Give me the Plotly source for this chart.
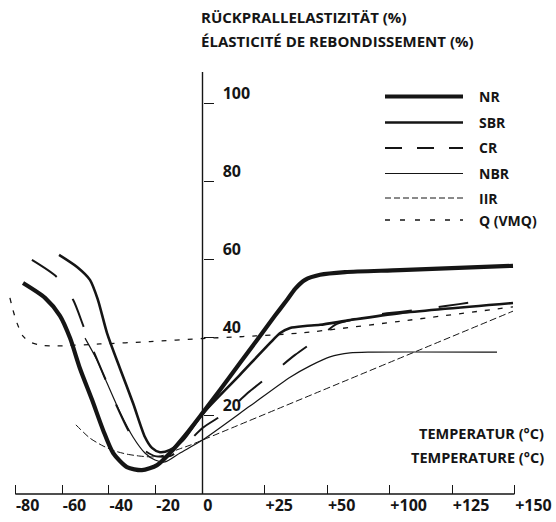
import numpy as np
import plotly.graph_objects as go

# ---------------- data ----------------
tick_temps = [-80, -60, -40, -20, 0, 25, 50, 100, 125, 150]
tick_labels = ["-80", "-60", "-40", "-20", "0", "+25", "+50", "+100", "+125", "+150"]
# the printed scale is broken: equal steps of 20 °C left of 0, equal steps of one label right of 0
tick_pos = [-4, -3, -2, -1, 0, 4 / 3, 8 / 3, 4, 16 / 3, 20 / 3]
y_ticks = [20, 40, 60, 80, 100]

nr_t = [-76.7, -67.3, -60.9, -56.6, -52.4, -47.2, -42.5, -38.2, -32.3, -25.9, -19.4, -13.9, -6.6, 0,
        7.0, 15.0, 29.0, 33.9, 37.1, 41.1, 47.1, 64.2, 104.1, 149.4]
nr_v = [54.0, 50.2, 45.6, 39.9, 32.2, 24.1, 16.4, 10.5, 6.9, 6.1, 7.4, 10.5, 15.6, 20.7,
        26.6, 33.5, 45.6, 49.7, 52.5, 54.8, 56.1, 56.8, 57.3, 58.4]

sbr_t = [-61.3, -53.6, -48.1, -44.7, -40.8, -35.3, -29.7, -24.6, -21.6, -18.2, -13.9, -8.3, 0,
         15.0, 27.0, 31.1, 35.1, 41.1, 47.1, 68.2, 104.1, 149.4]
sbr_v = [61.2, 58.1, 54.8, 49.7, 41.2, 32.2, 23.3, 14.6, 11.8, 10.7, 11.3, 13.8, 20.5,
         30.5, 38.6, 41.2, 42.5, 43.0, 43.3, 44.5, 46.3, 48.9]

cr_t = [-72.9, -62.2, -55.3, -50.6, -45.9, -40.8, -36.5, -31.8, -26.7, -20.3, -13.9, -7.5, 0,
        9.8, 18.2, 28.2, 37.1, 47.1, 56.2, 68.2, 86.6, 104.1, 117.0, 127.8, 140.2]
cr_v = [59.9, 55.5, 49.7, 42.5, 35.6, 28.4, 22.3, 16.4, 12.0, 9.7, 9.7, 12.5, 16.9,
        21.0, 25.9, 31.0, 35.6, 40.2, 43.3, 44.5, 45.8, 46.6, 47.6, 48.6, 49.7]

nbr_t = [-50.2, -45.1, -40.8, -35.3, -29.7, -24.6, -20.3, -16.0, -9.6, 0,
         19.0, 35.1, 43.1, 52.1, 68.2, 84.2, 143.0]
nbr_v = [39.9, 34.3, 28.4, 21.0, 14.6, 10.5, 8.7, 8.2, 10.5, 13.8,
         22.5, 29.9, 32.8, 35.1, 36.1, 36.3, 36.3]

iir_t = [-54.1, -48.1, -42.5, -37.4, -32.3, -26.7, -21.2, -16.0, -10.9, -5.3, 0, 149.4]
iir_v = [17.7, 14.3, 12.3, 11.0, 10.2, 9.7, 9.5, 10.0, 11.3, 12.5, 13.8, 46.8]

q_t = [-82.3, -81.0, -79.3, -76.7, -73.7, -69.4, -62.2, -43.8, -22.4, 0, 16.2, 39.1, 104.1, 149.4]
q_v = [50.2, 47.1, 43.8, 40.4, 38.9, 38.1, 37.9, 38.4, 39.0, 39.8, 40.3, 41.2, 44.2, 47.9]

names = ["NR", "SBR", "CR", "NBR", "IIR", "Q (VMQ)"]


def to_pos(t):
    t = np.asarray(t, dtype=float)
    return np.where(t <= 0, t / 20.0, np.interp(t, tick_temps, tick_pos))


W, H = 556, 522
INK = "#151515"
FONT = "Open Sans"

styles = [
    dict(width=4.2, dash="solid"),
    dict(width=2.6, dash="solid"),
    dict(width=2.0, dash="30px,27px"),
    dict(width=1.2, dash="solid"),
    dict(width=1.0, dash="7px,3px"),
    dict(width=1.3, dash="5px,8px"),
]
legend_dash = ["solid", "solid", "17px,15px", "solid", "6px,3px", "5px,10px"]

series = [(nr_t, nr_v), (sbr_t, sbr_v), (cr_t, cr_v), (nbr_t, nbr_v), (iir_t, iir_v), (q_t, q_v)]

fig = go.Figure()
for (t, v), name, st in zip(series, names, styles):
    fig.add_trace(go.Scatter(
        x=to_pos(t), y=v, mode="lines", name=name, showlegend=False,
        line=dict(color=INK, width=st["width"], dash=st["dash"], shape="spline", smoothing=0.7),
        hoverinfo="skip",
    ))

# pixel geometry of the plotting frame
X0_PX, PX_PER_UNIT = 202.5, 46.8
Y0_PX, PX_PER_Y = 494.0, 3.907
x_range = [-X0_PX / PX_PER_UNIT, (W - X0_PX) / PX_PER_UNIT]
y_range = [-(H - Y0_PX) / PX_PER_Y, Y0_PX / PX_PER_Y]
y_top = (Y0_PX - 72) / PX_PER_Y

shapes = [
    dict(type="line", xref="x", yref="y", x0=to_pos(tick_temps[0]).item(), x1=to_pos(tick_temps[-1]).item(),
         y0=0, y1=0, line=dict(color=INK, width=1.4)),
    dict(type="line", xref="x", yref="y", x0=0, x1=0, y0=0, y1=y_top, line=dict(color=INK, width=1.4)),
]
annotations = []

# legend (drawn manually)
leg_y_px = [96.5, 122.5, 148, 173.5, 198, 220]
for name, st, ld, ypx in zip(names, styles, legend_dash, leg_y_px):
    yp = 1 - ypx / H
    shapes.append(dict(type="line", xref="paper", yref="paper", x0=385 / W, x1=463 / W, y0=yp, y1=yp,
                       line=dict(color=INK, width=st["width"], dash=ld)))
    annotations.append(dict(xref="paper", yref="paper", x=477 / W, y=yp, text=name, showarrow=False,
                            xanchor="left", yanchor="middle",
                            font=dict(family=FONT, size=14, color=INK, weight="bold")))

for txt, ypx in [("RÜCKPRALLELASTIZITÄT (%)", 17), ("ÉLASTICITÉ DE REBONDISSEMENT (%)", 41)]:
    annotations.append(dict(xref="paper", yref="paper", x=199 / W, y=1 - ypx / H, text=txt, showarrow=False,
                            xanchor="left", yanchor="middle",
                            font=dict(family=FONT, size=15, color=INK, weight="bold")))
for txt, ypx in [("TEMPERATUR (°C)", 433), ("TEMPERATURE (°C)", 457)]:
    annotations.append(dict(xref="paper", yref="paper", x=546 / W, y=1 - ypx / H, text=txt, showarrow=False,
                            xanchor="right", yanchor="middle",
                            font=dict(family=FONT, size=14.5, color=INK, weight="bold")))

fig.update_layout(
    width=W, height=H, margin=dict(l=0, r=0, t=0, b=0),
    paper_bgcolor="white", plot_bgcolor="white",
    shapes=shapes, annotations=annotations,
    xaxis=dict(range=x_range, anchor="free", position=1 - Y0_PX / H, showline=False, showgrid=False,
               zeroline=False, ticks="inside", ticklen=9, tickwidth=1.3, tickcolor=INK,
               tickmode="array", tickvals=tick_pos, ticktext=tick_labels,
               ticklabelposition="outside right",
               tickfont=dict(family=FONT, size=16, color=INK, weight="bold")),
    yaxis=dict(range=y_range, anchor="free", position=X0_PX / W, side="right", showline=False,
               showgrid=False, zeroline=False, ticks="outside", ticklen=10, tickwidth=1.3, tickcolor=INK,
               tickmode="array", tickvals=y_ticks, ticktext=[str(v) for v in y_ticks],
               ticklabelposition="outside", ticklabelshift=-10, ticklabelstandoff=6,
               tickfont=dict(family=FONT, size=16, color=INK, weight="bold")),
    showlegend=False,
)

fig.write_html("out.html")
